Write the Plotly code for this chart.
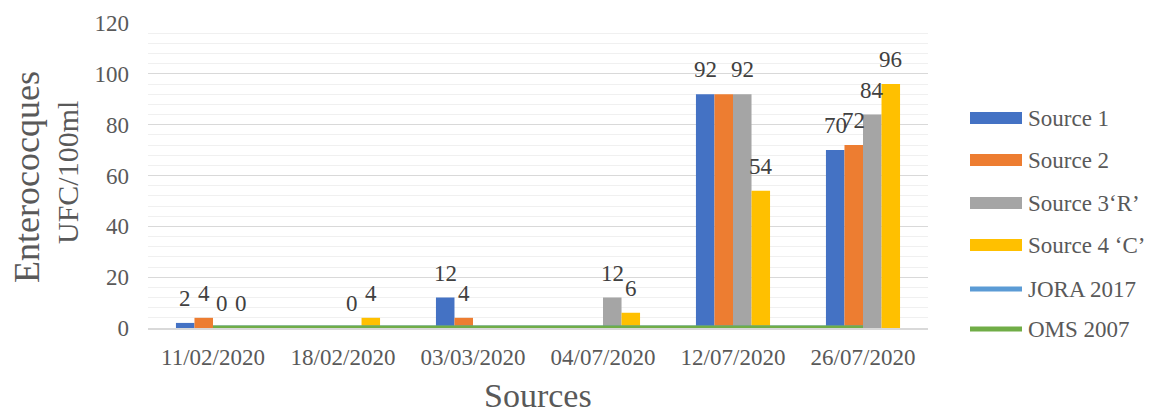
import plotly.graph_objects as go

# ---------------- data ----------------
categories = ["11/02/2020", "18/02/2020", "03/03/2020", "04/07/2020", "12/07/2020", "26/07/2020"]
source1 = [2, None, 12, None, 92, 70]
source2 = [4, None, 4, None, 92, 72]
source3 = [0, 0, None, 12, 92, 84]
source4 = [0, 4, None, 6, 54, 96]
jora2017 = [0, 0, 0, 0, 0, 0]
oms2007 = [0, 0, 0, 0, 0, 0]

label1 = ["2", "", "12", "", "92", "70"]
label2 = ["4", "", "4", "", "", "72"]
label3 = ["0", "0", "", "12", "92", "84"]
label4 = ["0", "4", "", "6", "54", "96"]

series_names = ["Source 1", "Source 2", "Source 3\u2018R\u2019", "Source 4 \u2018C\u2019"]
line_names = ["JORA 2017", "OMS 2007"]
y_ticks = [0, 20, 40, 60, 80, 100, 120]

# ---------------- style ----------------
bar_colors = ["#4472C4", "#ED7D31", "#A5A5A5", "#FFC000"]
line_colors = ["#5B9BD5", "#70AD47"]
FONT = "Liberation Serif"
GRAY = "#595959"
W, H = 1153, 415
ML, MR, MT, MB = 148, 225, 23, 87
PW, PH = W - ML - MR, H - MT - MB
BARGAP = 0.43

fig = go.Figure()
series_vals = [source1, source2, source3, source4]
series_labels = [label1, label2, label3, label4]
for name, vals, col in zip(series_names, series_vals, bar_colors):
    fig.add_trace(go.Bar(x=categories, y=vals, name=name, marker_color=col,
                         marker_line_width=0, showlegend=False))

for name, vals, col in zip(line_names, [jora2017, oms2007], line_colors):
    fig.add_trace(go.Scatter(x=categories, y=vals, name=name, mode="lines",
                             line=dict(color=col, width=5), cliponaxis=False,
                             showlegend=False))

# data labels
bar_px = PW / len(categories) * (1 - BARGAP) / 4
annotations = []
for j, (vals, labs) in enumerate(zip(series_vals, series_labels)):
    for i, (v, t) in enumerate(zip(vals, labs)):
        if t and v is not None:
            annotations.append(dict(x=categories[i], y=v, text=t, showarrow=False,
                                    xshift=(j - 1.5) * bar_px, yshift=10,
                                    yanchor="bottom", xanchor="center",
                                    font=dict(family=FONT, size=23, color="#404040")))

# axis titles
def px2paper(px, py):
    return (px - ML) / PW, (H - MB - py) / PH

tx, ty = px2paper(27, 177)
annotations.append(dict(x=tx, y=ty, xref="paper", yref="paper", text="Enterococques",
                        textangle=-90, showarrow=False, xanchor="center", yanchor="middle",
                        font=dict(family=FONT, size=36, color=GRAY)))
tx, ty = px2paper(67, 173)
annotations.append(dict(x=tx, y=ty, xref="paper", yref="paper", text="UFC/100ml",
                        textangle=-90, showarrow=False, xanchor="center", yanchor="middle",
                        font=dict(family=FONT, size=30, color=GRAY)))
tx, ty = px2paper(538, 396)
annotations.append(dict(x=tx, y=ty, xref="paper", yref="paper", text="Sources",
                        showarrow=False, xanchor="center", yanchor="middle",
                        font=dict(family=FONT, size=34, color=GRAY)))

# custom legend
shapes = []
legend_y = [118, 160, 203, 245, 289, 329]
legend_items = [(n, c, "bar") for n, c in zip(series_names, bar_colors)] + \
               [(n, c, "line") for n, c in zip(line_names, line_colors)]
for (name, col, kind), py in zip(legend_items, legend_y):
    x0, _ = px2paper(970, py)
    x1, _ = px2paper(1022, py)
    if kind == "bar":
        _, y0 = px2paper(0, py + 6)
        _, y1 = px2paper(0, py - 6)
        shapes.append(dict(type="rect", xref="paper", yref="paper", x0=x0, x1=x1,
                           y0=y0, y1=y1, fillcolor=col, line_width=0))
    else:
        _, yc = px2paper(0, py)
        shapes.append(dict(type="line", xref="paper", yref="paper", x0=x0, x1=x1,
                           y0=yc, y1=yc, line=dict(color=col, width=5)))
    lx, ly = px2paper(1026, py)
    annotations.append(dict(x=lx, y=ly, xref="paper", yref="paper", text=name,
                            showarrow=False, xanchor="left", yanchor="middle",
                            font=dict(family=FONT, size=23, color=GRAY)))

fig.update_layout(
    width=W, height=H,
    margin=dict(l=ML, r=MR, t=MT, b=MB, pad=0),
    paper_bgcolor="white", plot_bgcolor="white",
    barmode="group", bargap=BARGAP, bargroupgap=0,
    showlegend=False,
    annotations=annotations, shapes=shapes,
    font=dict(family=FONT, color=GRAY),
)
fig.update_xaxes(type="category", categoryorder="array", categoryarray=categories,
                 showgrid=False, showline=True, linecolor="#D9D9D9", linewidth=1.5,
                 ticks="", tickfont=dict(family=FONT, size=23, color=GRAY),
                 ticklabelstandoff=8, zeroline=False)
fig.update_yaxes(range=[0, 120], tickvals=y_ticks, ticktext=[str(v) for v in y_ticks],
                 showgrid=True, gridcolor="#D9D9D9", gridwidth=1,
                 minor=dict(dtick=4, showgrid=True, gridcolor="#F0F0F0", gridwidth=1),
                 zeroline=False, showline=False, ticks="",
                 tickfont=dict(family=FONT, size=23, color=GRAY),
                 ticklabelstandoff=18)

fig.write_html("out.html")
